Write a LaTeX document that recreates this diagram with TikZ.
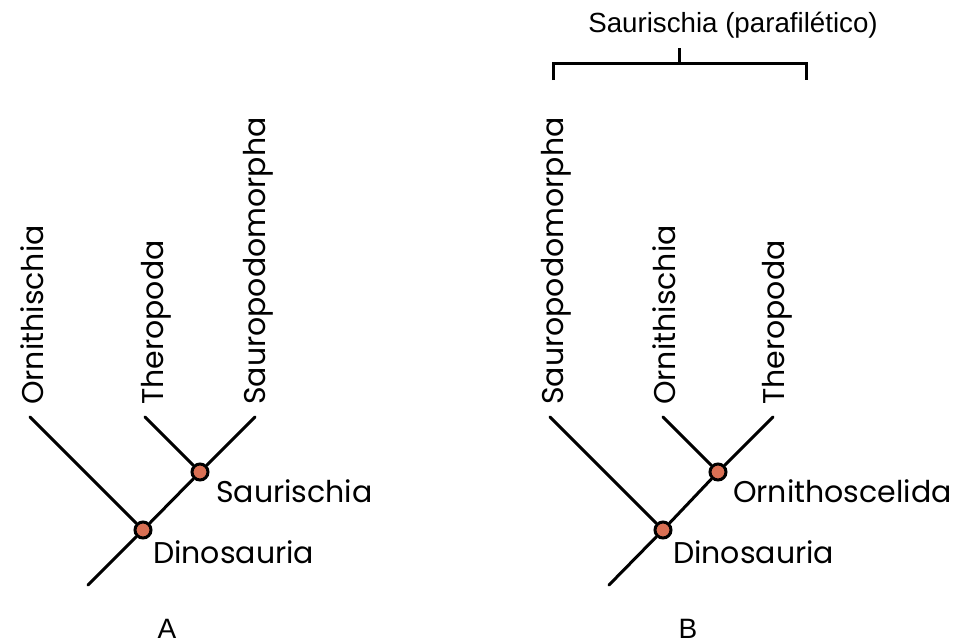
\documentclass[tikz,border=0pt]{standalone}
\usepackage{fontspec}
\setmainfont{Poppins}
\newfontfamily\headfont{Liberation Sans}
\newlength{\du}
\setlength{\du}{1pt}
\definecolor{dotcolor}{rgb}{0.850000, 0.440000, 0.330000}
\tikzset{
  clade/.style={circle,draw=black,fill=dotcolor,line width=3\du,minimum size=16\du,inner sep=0pt},
  branch/.style={line width=3\du,line cap=round},
  taxon/.style={rotate=90,anchor=base west,inner sep=0pt,font=\fontsize{30\du}{36\du}\selectfont},
  cladename/.style={anchor=base west,inner sep=0pt,font=\fontsize{30\du}{36\du}\selectfont},
  headtext/.style={anchor=base,inner sep=0pt,font=\headfont\fontsize{27.7\du}{32\du}\selectfont},
  treetag/.style={anchor=base,inner sep=0pt,text depth=0pt,font=\headfont\fontsize{28\du}{32\du}\selectfont}
}
\begin{document}
\begin{tikzpicture}
\pgftransformxscale{1.000000}
\pgftransformyscale{-1.000000}
\useasboundingbox (0\du,0\du) rectangle (956\du,643\du);
% tree A
\node[clade] (dinoA) at (143\du,530\du) {};
\node[clade] (sauriA) at (200\du,472\du) {};
\coordinate (rootA) at (88\du,585\du);
\coordinate (ornithA) at (30\du,417\du);
\coordinate (theroA) at (145\du,417\du);
\coordinate (sauroA) at (255\du,417\du);
\draw[branch] (rootA)--(dinoA) (dinoA)--(ornithA) (dinoA)--(sauriA);
\draw[branch] (sauriA)--(theroA) (sauriA)--(sauroA);
% labels of A
\node[taxon] (ornithAtext) at (43\du,405\du) {Ornithischia};
\node[taxon] (theroAtext) at (163\du,405\du) {Theropoda};
\node[taxon] (sauroAtext) at (265\du,405\du) {Sauropodomorpha};
\node[cladename] (sauriAtext) at (216\du,502\du) {Saurischia};
\node[cladename] (dinoAtext) at (153\du,563\du) {Dinosauria};
\node[treetag] (tagA) at (167\du,638\du) {A};
% tree B
\node[clade] (dinoB) at (663\du,530\du) {};
\node[clade] (ornithoB) at (718\du,472\du) {};
\coordinate (rootB) at (609\du,585\du);
\coordinate (sauroB) at (550\du,417\du);
\coordinate (ornithB) at (663\du,417\du);
\coordinate (theroB) at (773\du,417\du);
\draw[branch] (rootB)--(dinoB) (dinoB)--(sauroB) (dinoB)--(ornithoB);
\draw[branch] (ornithoB)--(ornithB) (ornithoB)--(theroB);
% labels of B
\node[taxon] (sauroBtext) at (563\du,405\du) {Sauropodomorpha};
\node[taxon] (ornithBtext) at (675\du,405\du) {Ornithischia};
\node[taxon] (theroBtext) at (784\du,405\du) {Theropoda};
\node[cladename] (ornithoBtext) at (733\du,502\du) {Ornithoscelida};
\node[cladename] (dinoBtext) at (673\du,563\du) {Dinosauria};
\node[treetag] (tagB) at (688\du,638\du) {B};
% bracket over B
\node[headtext] (head) at (733\du,32\du) {Saurischia (parafilético)};
\coordinate (brL) at (553\du,80\du);
\coordinate (brR) at (806\du,80\du);
\coordinate (brM) at (679\du,48\du);
\draw[line width=3\du] (brL) -- (553\du,63\du) -- (806\du,63\du) -- (brR);
\draw[line width=3\du] (brM) -- (679\du,63\du);
\end{tikzpicture}
\end{document}
